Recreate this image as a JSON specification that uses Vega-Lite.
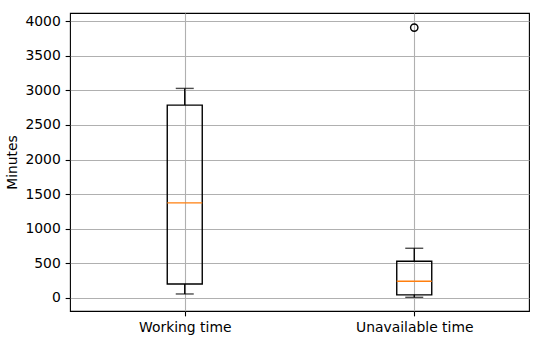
{
  "$schema": "https://vega.github.io/schema/vega-lite/v6.json",
  "autosize": "none",
  "padding": {"left": 70, "top": 13, "right": 21, "bottom": 33},
  "width": 459,
  "height": 298,
  "config": {
    "font": "DejaVu Sans",
    "view": {"stroke": "black", "strokeWidth": 1.1},
    "axis": {
      "labelFont": "DejaVu Sans",
      "labelFontSize": 13.9,
      "labelColor": "black",
      "labelFlush": false,
      "labelOverlap": false,
      "titleFont": "DejaVu Sans",
      "titleFontSize": 13.9,
      "titleFontWeight": "normal",
      "titleColor": "black",
      "gridColor": "#b0b0b0",
      "gridWidth": 1.1,
      "gridOpacity": 1,
      "tickColor": "black",
      "tickWidth": 1.1,
      "tickSize": 4.86,
      "labelPadding": 4.86,
      "domain": false
    },
    "axisY": {"tickCount": 9, "values": [0, 500, 1000, 1500, 2000, 2500, 3000, 3500, 4000], "format": "d"}
  },
  "datasets": {
    "boxes": [
      {"category": "Working time", "low": 58, "q1": 202, "median": 1373, "q3": 2786, "high": 3027},
      {"category": "Unavailable time", "low": 10, "q1": 45, "median": 241, "q3": 530, "high": 718}
    ],
    "outliers": [
      {"category": "Unavailable time", "value": 3905}
    ]
  },
  "data": {"name": "boxes"},
  "layer": [
    {
      "mark": {"type": "rule", "color": "black", "strokeWidth": 1.39},
      "encoding": {
        "x": {"field": "category", "type": "nominal", "scale": {"type": "point", "padding": 0.5, "domain": ["Working time", "Unavailable time"]},
          "axis": {"title": null, "labelAngle": 0, "grid": true}},
        "y": {"field": "low", "type": "quantitative", "scale": {"domain": [-188, 4116], "nice": false, "zero": false},
          "axis": {"title": "Minutes", "values": [0, 500, 1000, 1500, 2000, 2500, 3000, 3500, 4000], "tickCount": 9, "format": "d", "grid": true, "titlePadding": 5}},
        "y2": {"field": "q1"}
      }
    },
    {
      "mark": {"type": "rule", "color": "black", "strokeWidth": 1.39},
      "encoding": {
        "x": {"field": "category", "type": "nominal"},
        "y": {"field": "q3", "type": "quantitative"},
        "y2": {"field": "high"}
      }
    },
    {
      "mark": {"type": "tick", "color": "black", "thickness": 1.39, "size": 18},
      "encoding": {
        "x": {"field": "category", "type": "nominal"},
        "y": {"field": "low", "type": "quantitative"}
      }
    },
    {
      "mark": {"type": "tick", "color": "black", "thickness": 1.39, "size": 18},
      "encoding": {
        "x": {"field": "category", "type": "nominal"},
        "y": {"field": "high", "type": "quantitative"}
      }
    },
    {
      "mark": {"type": "bar", "size": 35, "fillOpacity": 0, "stroke": "black", "strokeWidth": 1.39},
      "encoding": {
        "x": {"field": "category", "type": "nominal"},
        "y": {"field": "q1", "type": "quantitative"},
        "y2": {"field": "q3"}
      }
    },
    {
      "mark": {"type": "tick", "color": "#ff7f0e", "thickness": 1.39, "size": 35, "opacity": 1},
      "encoding": {
        "x": {"field": "category", "type": "nominal"},
        "y": {"field": "median", "type": "quantitative"}
      }
    },
    {
      "data": {"name": "outliers"},
      "mark": {"type": "point", "shape": "circle", "filled": false, "color": "black", "strokeWidth": 1.39, "size": 54, "opacity": 1},
      "encoding": {
        "x": {"field": "category", "type": "nominal"},
        "y": {"field": "value", "type": "quantitative"}
      }
    }
  ]
}
